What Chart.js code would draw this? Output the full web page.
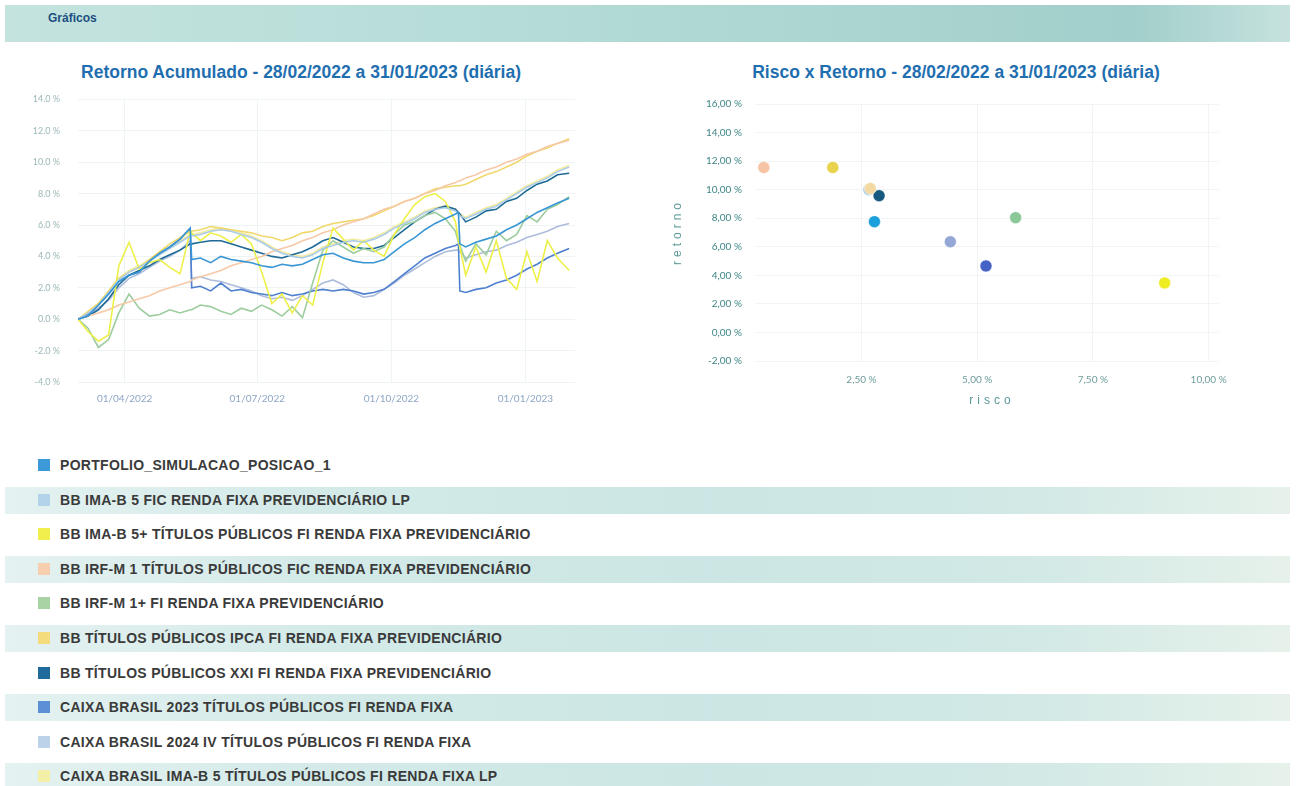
<!DOCTYPE html>
<html>
<head>
<meta charset="utf-8">
<script src="https://cdn.jsdelivr.net/npm/chart.js@4.4.1/dist/chart.umd.min.js"></script>
<style>
  html, body { margin:0; padding:0; background:#ffffff; }
  body { width:1300px; height:786px; position:relative; overflow:hidden; font-family:"Liberation Sans", Arial, sans-serif; }
  #header { position:absolute; left:5px; top:5px; width:1285px; height:37px;
    background:linear-gradient(to right,#c4e3df 0%,#b7ddd8 35%,#a9d4cf 70%,#a2cfcb 88%,#c6e2de 100%); }
  #header span { position:absolute; left:43px; top:6px; font-weight:bold; font-size:12px; color:#1b4f80; }
  .ctitle { position:absolute; top:62px; font-weight:bold; font-size:17.5px; color:#1f6fb0; white-space:nowrap; transform:translateX(-50%); }
  canvas { position:absolute; }
  .axtitle { position:absolute; font-size:12px; color:#5d9a9a; letter-spacing:4px; white-space:nowrap; }
  .row { position:absolute; left:5px; width:1285px; height:27px; }
  .row.striped { background:linear-gradient(to right,#e4f2f1 0%,#d3eae8 25%,#cbe6e4 55%,#d2e9e6 80%,#e6f1ea 100%); }
  .sw { position:absolute; left:33px; top:7px; width:12px; height:12px; }
  .lt { position:absolute; left:55px; top:5px; font-size:14px; font-weight:bold; color:#3a3a3a; white-space:nowrap; letter-spacing:0.3px; }
</style>
</head>
<body>
<div id="header"><span>Gráficos</span></div>
<div class="ctitle" style="left:301px;">Retorno Acumulado - 28/02/2022 a 31/01/2023 (diária)</div>
<div class="ctitle" style="left:956px;">Risco x Retorno - 28/02/2022 a 31/01/2023 (diária)</div>
<canvas id="lineChart" width="555" height="339" style="left:30px; top:76px;"></canvas>
<canvas id="scatterChart" width="580" height="330" style="left:660px; top:85px;"></canvas>
<div class="axtitle" style="left:677px; top:232px; transform:translate(-50%,-50%) rotate(-90deg);">retorno</div>
<div class="axtitle" style="left:992px; top:400px; transform:translate(-50%,-50%);">risco</div>
<div id="legend"></div>

<script>
// ---------- DATA ----------
const seriesNames = [
  "PORTFOLIO_SIMULACAO_POSICAO_1",
  "BB IMA-B 5 FIC RENDA FIXA PREVIDENCIÁRIO LP",
  "BB IMA-B 5+ TÍTULOS PÚBLICOS FI RENDA FIXA PREVIDENCIÁRIO",
  "BB IRF-M 1 TÍTULOS PÚBLICOS FIC RENDA FIXA PREVIDENCIÁRIO",
  "BB IRF-M 1+ FI RENDA FIXA PREVIDENCIÁRIO",
  "BB TÍTULOS PÚBLICOS IPCA FI RENDA FIXA PREVIDENCIÁRIO",
  "BB TÍTULOS PÚBLICOS XXI FI RENDA FIXA PREVIDENCIÁRIO",
  "CAIXA BRASIL 2023 TÍTULOS PÚBLICOS FI RENDA FIXA",
  "CAIXA BRASIL 2024 IV TÍTULOS PÚBLICOS FI RENDA FIXA",
  "CAIXA BRASIL IMA-B 5 TÍTULOS PÚBLICOS FI RENDA FIXA LP"
];

// days since 28/02/2022
const days = [0,7,14,21,28,35,42,49,56,63,70,77,78,84,91,98,105,112,119,126,133,140,147,154,161,168,175,182,189,196,203,210,217,224,231,238,245,252,259,261,262,266,273,280,287,294,301,308,315,322,329,337];

const portfolio   = [0,0.2,0.9,1.6,2.4,2.8,3.0,3.7,4.2,4.6,5.1,5.8,3.8,3.9,3.6,4.0,3.8,3.7,3.6,3.4,3.3,3.5,3.4,3.5,3.8,4.1,4.2,3.9,3.7,3.6,3.6,3.8,4.3,4.8,5.2,5.7,6.1,6.4,6.7,6.8,4.8,4.6,4.9,5.1,5.3,5.7,6.0,6.4,6.8,7.1,7.4,7.7];
const bbImab5     = [0,0.4,0.9,1.7,2.5,3.0,3.3,3.7,4.1,4.5,4.9,5.3,5.3,5.4,5.6,5.7,5.6,5.4,5.2,4.9,4.5,4.2,4.0,3.9,4.1,4.5,4.7,4.9,5.0,4.9,5.1,5.4,5.8,6.1,6.4,6.8,7.0,7.1,6.9,6.7,6.6,6.4,6.7,7.0,7.2,7.6,8.0,8.4,8.7,9.0,9.4,9.7];
const bbImab5Plus = [0,-0.8,-1.4,-1.0,3.4,4.9,3.2,3.6,3.8,3.3,2.9,5.6,5.5,5.0,5.5,5.3,4.9,5.4,4.8,3.0,1.0,1.6,0.4,1.5,0.9,3.6,5.8,5.1,4.4,5.0,4.4,4.0,5.4,6.4,7.3,7.8,8.0,7.5,6.2,5.0,4.6,2.8,4.6,3.0,5.0,2.6,1.9,4.3,2.4,5.0,3.9,3.1];
const bbIrfm1     = [0,0.2,0.4,0.6,0.9,1.1,1.3,1.5,1.8,2.0,2.2,2.4,2.5,2.7,2.9,3.1,3.4,3.6,3.8,4.0,4.3,4.5,4.7,5.0,5.2,5.5,5.7,6.0,6.2,6.4,6.7,7.0,7.2,7.5,7.7,8.0,8.2,8.5,8.7,8.8,8.8,9.0,9.2,9.5,9.7,10.0,10.2,10.5,10.7,11.0,11.2,11.4];
const bbIrfm1Plus = [0,-0.6,-1.8,-1.3,0.4,1.6,0.7,0.2,0.3,0.6,0.4,0.6,0.6,0.9,0.8,0.5,0.3,0.7,0.5,0.9,0.6,0.2,0.8,0.1,2.3,4.4,5.0,4.6,4.2,4.5,4.3,4.6,5.4,6.0,6.2,6.6,6.8,6.4,5.6,4.9,4.7,3.7,4.8,4.1,5.6,5.0,5.4,6.6,6.2,7.0,7.3,7.8];
const bbIpca      = [0,0.5,1.0,1.8,2.6,3.0,3.3,3.8,4.3,4.8,5.2,5.6,5.6,5.7,5.9,5.8,5.7,5.6,5.5,5.3,5.2,5.0,5.2,5.5,5.6,5.9,6.1,6.2,6.3,6.4,6.6,6.9,7.2,7.5,7.7,8.0,8.3,8.4,8.5,8.5,8.5,8.6,8.9,9.2,9.4,9.7,10.0,10.4,10.7,10.9,11.2,11.5];
const bbXxi       = [0,0.2,0.6,1.3,2.2,2.8,3.1,3.4,3.8,4.1,4.4,4.8,4.8,4.9,5.0,5.0,4.8,4.6,4.4,4.2,4.0,3.9,4.1,4.3,4.6,5.0,5.2,4.9,4.6,4.5,4.5,4.7,5.2,5.7,6.2,6.6,7.0,7.2,7.0,6.8,6.7,6.2,6.5,6.9,7.0,7.5,7.7,8.2,8.6,8.8,9.2,9.3];
const caixa2023   = [0,0.3,0.9,1.6,2.4,2.8,3.0,3.7,4.2,4.6,5.1,5.8,2.0,2.1,1.8,2.3,1.8,1.9,1.7,1.6,1.5,1.7,1.5,1.6,1.8,1.9,1.8,1.9,1.8,1.6,1.7,1.9,2.4,2.9,3.4,3.9,4.2,4.5,4.7,4.8,1.8,1.7,1.9,2.0,2.3,2.5,2.8,3.2,3.5,3.9,4.2,4.5];
const caixa2024iv = [0,0.3,0.7,1.2,2.0,2.6,2.9,3.3,3.7,4.0,4.4,5.0,2.6,2.7,2.5,2.4,2.2,2.0,1.8,1.5,1.3,1.4,1.2,1.5,1.9,2.3,2.5,2.2,1.7,1.4,1.5,1.9,2.3,2.8,3.2,3.6,4.0,4.3,4.4,4.4,4.3,3.9,4.1,4.3,4.4,4.7,4.9,5.2,5.4,5.6,5.9,6.1];
const caixaImab5  = [0,0.5,1.0,1.8,2.6,3.1,3.4,3.8,4.2,4.6,5.0,5.4,5.4,5.5,5.7,5.8,5.7,5.5,5.3,5.0,4.6,4.3,4.1,4.0,4.2,4.6,4.8,5.0,5.1,5.0,5.2,5.5,5.9,6.2,6.5,6.9,7.1,7.2,7.0,6.8,6.7,6.5,6.8,7.1,7.3,7.7,8.1,8.5,8.8,9.1,9.5,9.8];

const seriesValues = [portfolio, bbImab5, bbImab5Plus, bbIrfm1, bbIrfm1Plus, bbIpca, bbXxi, caixa2023, caixa2024iv, caixaImab5];

const tickDays   = [32,123,215,307];
const tickLabels = ["01/04/2022","01/07/2022","01/10/2022","01/01/2023"];

// Risco x Retorno (%)
const riskValues   = [2.78, 2.66, 9.05, 0.39, 5.83, 1.88, 2.88, 5.19, 4.42, 2.69];
const returnValues = [7.76, 10.00, 3.47, 11.55, 8.04, 11.55, 9.58, 4.66, 6.35, 10.08];
const riskTicks    = [2.5, 5.0, 7.5, 10.0];

// ---------- STYLES ----------
const lineColors   = ['#3896d4','#a9cbe6','#eef04a','#f6c9a8','#9ccd9e','#f1d86a','#1d6a96','#4f80cf','#aebcdc','#f3eba2'];
const swatchColors = ['#3d9ad8','#b3d3ea','#f0ef4e','#f8cfae','#a9d2a5','#f4dc7c','#1f6c9c','#5b8fd6','#bcd2e8','#f4efa6'];
const pointColors  = ['#1ba0dc','#a6c9e6','#eeec22','#f6c3a4','#8ac897','#e9d24c','#17587f','#4562c6','#95a7d6','#f4d9a2'];

// ---------- LEGEND ----------
const legend = document.getElementById('legend');
seriesNames.forEach((name, i) => {
  const row = document.createElement('div');
  row.className = 'row' + (i % 2 === 1 ? ' striped' : '');
  row.style.top = (452 + i * 34.6) + 'px';
  const sw = document.createElement('div');
  sw.className = 'sw';
  sw.style.background = swatchColors[i];
  const t = document.createElement('div');
  t.className = 'lt';
  t.textContent = name;
  row.appendChild(sw); row.appendChild(t);
  legend.appendChild(row);
});

// ---------- LINE CHART ----------
new Chart(document.getElementById('lineChart'), {
  type: 'line',
  data: {
    datasets: seriesNames.map((n, i) => ({
      label: n,
      data: days.map((d, j) => ({ x: d, y: seriesValues[i][j] })),
      borderColor: lineColors[i],
      backgroundColor: lineColors[i],
      borderWidth: 1.6,
      pointRadius: 0,
      tension: 0,
      fill: false
    }))
  },
  options: {
    responsive: false, animation: false,
    layout: { padding: { top: 7, right: 10, left: 0, bottom: 0 } },
    plugins: { legend: { display: false }, tooltip: { enabled: false } },
    scales: {
      x: {
        type: 'linear', min: 0, max: 341,
        afterBuildTicks: s => { s.ticks = tickDays.map(v => ({ value: v })); },
        afterFit: s => { s.height = 33; },
        ticks: { callback: v => tickLabels[tickDays.indexOf(v)], font: { size: 10, family: 'Lato' }, color: '#8ea6c6', padding: 11, maxRotation: 0, autoSkip: false },
        grid: { color: '#eef3f3', drawTicks: false },
        border: { display: false }
      },
      y: {
        min: -4, max: 14,
        afterFit: s => { s.width = 48; },
        ticks: { stepSize: 2, callback: v => v.toFixed(1) + ' %', font: { size: 9, family: 'Lato' }, color: '#9bb7b7', padding: 18 },
        grid: { color: '#eef3f3', drawTicks: false },
        border: { display: false }
      }
    }
  }
});

// ---------- SCATTER CHART ----------
const fmt2 = v => v.toFixed(2).replace('.', ',') + ' %';
new Chart(document.getElementById('scatterChart'), {
  type: 'scatter',
  data: {
    datasets: [{
      label: 'Risco x Retorno',
      data: riskValues.map((r, i) => ({ x: r, y: returnValues[i] })),
      backgroundColor: pointColors,
      borderColor: 'rgba(255,255,255,0.5)',
      borderWidth: 1,
      pointRadius: 6
    }]
  },
  options: {
    responsive: false, animation: false,
    layout: { padding: { top: 8, right: 15, left: 0, bottom: 0 } },
    plugins: { legend: { display: false }, tooltip: { enabled: false } },
    scales: {
      x: {
        type: 'linear', min: 0.2, max: 10.22,
        afterBuildTicks: s => { s.ticks = riskTicks.map(v => ({ value: v })); },
        afterFit: s => { s.height = 54; },
        ticks: { callback: v => fmt2(v), font: { size: 10, family: 'Lato' }, color: '#6e9c9c', padding: 13, maxRotation: 0, autoSkip: false },
        grid: { color: '#f0f4f4', drawTicks: false },
        border: { display: false }
      },
      y: {
        min: -2, max: 16,
        afterFit: s => { s.width = 95; },
        ticks: { stepSize: 2, callback: v => fmt2(v), font: { size: 10, family: 'Lato' }, color: '#3f8585', padding: 13 },
        grid: { color: '#f0f4f4', drawTicks: false },
        border: { display: false }
      }
    }
  }
});
</script>
</body>
</html>
